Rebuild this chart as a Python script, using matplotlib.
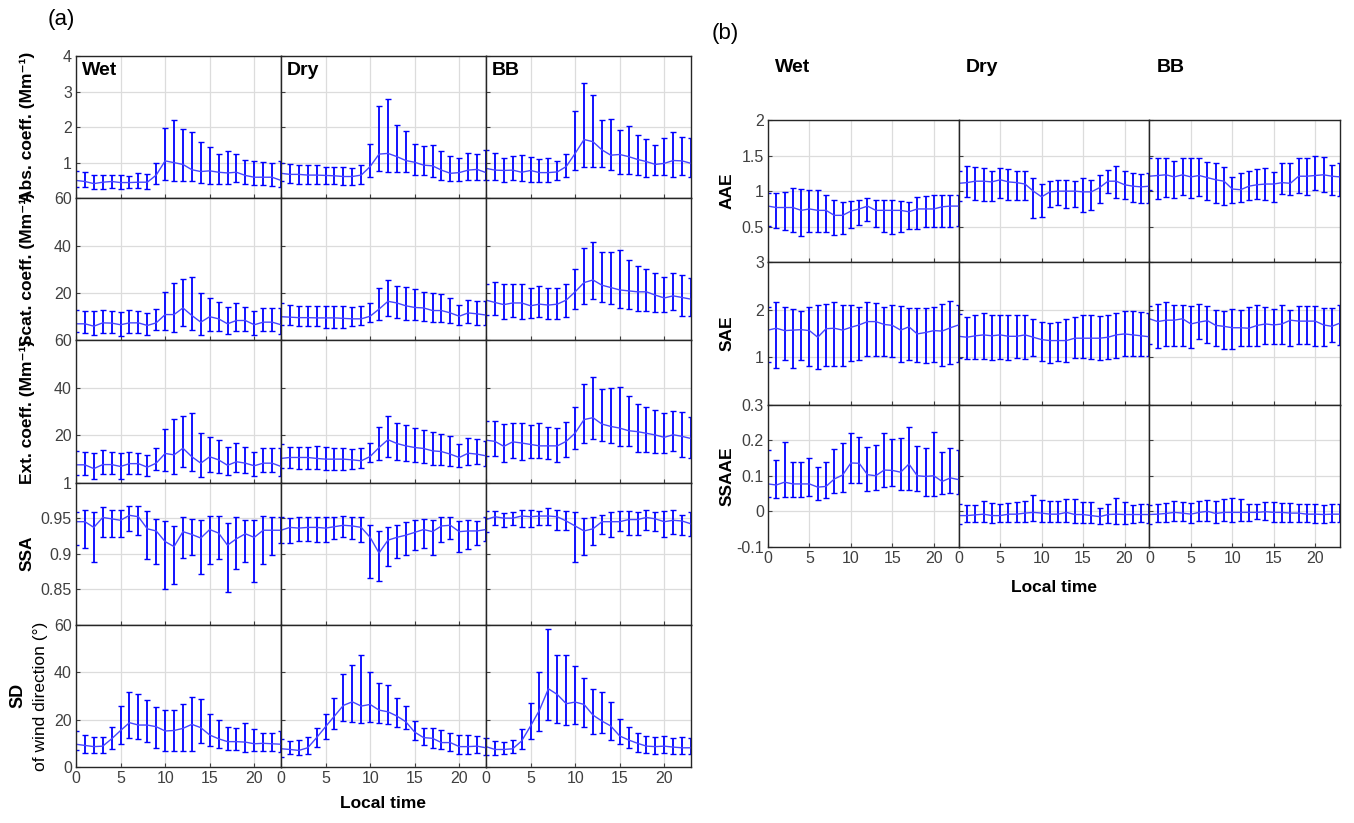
import numpy as np
import matplotlib
matplotlib.use("Agg")
import matplotlib.pyplot as plt

plt.rcParams["font.family"] = ["Liberation Sans", "DejaVu Sans"]

HOURS = list(range(24))
SEASONS = ["Wet", "Dry", "BB"]

# ---- panel (a) ----
abs_wet = [0.50, 0.47, 0.41, 0.45, 0.47, 0.44, 0.44, 0.45, 0.45, 0.65, 1.05, 1.00, 0.95, 0.80, 0.75, 0.77, 0.73, 0.71, 0.73, 0.64, 0.59, 0.59, 0.59, 0.50]
abs_wet_hi = [0.77, 0.73, 0.64, 0.64, 0.64, 0.64, 0.62, 0.71, 0.68, 0.98, 1.98, 2.21, 1.95, 1.85, 1.59, 1.45, 1.23, 1.32, 1.23, 1.07, 1.05, 1.02, 1.00, 1.05]
abs_wet_lo = [0.32, 0.32, 0.25, 0.27, 0.29, 0.25, 0.29, 0.29, 0.27, 0.41, 0.50, 0.47, 0.47, 0.47, 0.43, 0.41, 0.41, 0.41, 0.45, 0.41, 0.38, 0.36, 0.35, 0.32]
abs_dry = [0.70, 0.67, 0.67, 0.65, 0.65, 0.64, 0.63, 0.61, 0.61, 0.65, 0.89, 1.24, 1.26, 1.17, 1.06, 1.01, 0.93, 0.91, 0.79, 0.70, 0.72, 0.79, 0.81, 0.72]
abs_dry_hi = [0.98, 0.95, 0.93, 0.92, 0.92, 0.89, 0.88, 0.87, 0.86, 0.92, 1.52, 2.59, 2.78, 2.07, 1.90, 1.52, 1.47, 1.50, 1.33, 1.20, 1.12, 1.28, 1.24, 1.36]
abs_dry_lo = [0.47, 0.42, 0.40, 0.40, 0.40, 0.39, 0.39, 0.36, 0.37, 0.39, 0.59, 0.77, 0.73, 0.75, 0.73, 0.64, 0.64, 0.61, 0.50, 0.47, 0.47, 0.50, 0.50, 0.51]
abs_bb = [0.84, 0.79, 0.78, 0.79, 0.73, 0.78, 0.72, 0.72, 0.74, 0.89, 1.26, 1.65, 1.59, 1.36, 1.21, 1.23, 1.17, 1.09, 1.03, 0.95, 0.98, 1.06, 1.05, 0.98]
abs_bb_hi = [1.36, 1.28, 1.12, 1.19, 1.21, 1.15, 1.09, 1.12, 1.06, 1.24, 2.46, 3.25, 2.89, 2.19, 2.22, 1.92, 2.03, 1.79, 1.67, 1.51, 1.70, 1.86, 1.73, 1.70]
abs_bb_lo = [0.51, 0.51, 0.45, 0.51, 0.47, 0.45, 0.45, 0.45, 0.51, 0.61, 0.79, 0.89, 0.89, 0.89, 0.79, 0.67, 0.67, 0.65, 0.61, 0.64, 0.64, 0.61, 0.65, 0.61]

scat_wet = [7.0, 7.0, 6.0, 7.4, 7.3, 6.6, 7.4, 7.4, 6.3, 7.4, 10.9, 10.9, 13.7, 10.5, 7.7, 10.0, 9.1, 7.0, 8.4, 8.4, 6.6, 7.7, 7.7, 6.6]
scat_wet_hi = [13.0, 12.3, 12.3, 13.0, 12.3, 11.9, 12.8, 12.3, 11.6, 13.2, 20.6, 24.4, 26.1, 26.9, 19.9, 18.1, 16.0, 14.2, 15.6, 14.2, 12.3, 13.7, 13.7, 13.7]
scat_wet_lo = [3.5, 3.2, 2.1, 3.1, 3.2, 1.7, 3.2, 3.2, 2.1, 4.2, 4.5, 3.5, 6.0, 4.2, 2.4, 3.9, 3.9, 2.5, 3.9, 3.8, 2.4, 3.9, 3.9, 2.8]
scat_dry = [10.0, 9.8, 9.6, 9.6, 9.5, 9.5, 9.5, 9.3, 9.1, 9.1, 10.2, 13.2, 16.5, 15.8, 14.6, 13.9, 13.7, 12.6, 12.6, 11.6, 10.2, 11.6, 11.2, 10.7]
scat_dry_hi = [15.6, 14.9, 14.6, 14.4, 14.6, 14.6, 14.4, 14.4, 13.9, 14.4, 15.6, 22.2, 25.5, 23.0, 22.7, 21.6, 20.5, 19.9, 19.5, 17.9, 15.1, 17.2, 16.5, 16.5]
scat_dry_lo = [6.6, 6.6, 6.0, 6.0, 5.9, 5.3, 5.3, 5.3, 5.9, 6.3, 7.9, 8.6, 10.2, 9.5, 8.6, 8.6, 8.1, 7.9, 7.7, 7.3, 6.6, 7.3, 6.7, 6.3]
scat_bb = [17.0, 16.0, 15.1, 15.8, 15.8, 14.6, 15.3, 14.9, 15.3, 17.0, 20.5, 24.4, 25.5, 23.3, 22.3, 21.3, 20.9, 20.5, 20.5, 19.1, 17.9, 18.8, 18.1, 17.4]
scat_bb_hi = [24.0, 24.7, 23.7, 23.7, 24.0, 22.3, 23.0, 22.3, 21.9, 24.0, 30.0, 39.1, 41.4, 37.4, 37.4, 38.1, 33.9, 31.4, 30.0, 28.6, 26.9, 28.6, 27.5, 26.5]
scat_bb_lo = [10.9, 10.9, 9.1, 10.0, 9.1, 9.5, 10.0, 9.1, 9.1, 10.0, 13.2, 15.3, 17.4, 16.3, 15.3, 13.7, 13.2, 12.6, 12.6, 11.9, 11.9, 13.0, 10.5, 10.5]

ext_wet = [7.5, 7.5, 5.9, 7.6, 7.6, 6.8, 8.0, 8.0, 6.5, 8.2, 12.3, 11.7, 14.5, 10.9, 8.2, 10.9, 9.6, 7.3, 8.8, 8.2, 7.1, 8.2, 8.2, 6.8]
ext_wet_hi = [13.4, 13.1, 12.7, 13.7, 13.1, 12.3, 13.1, 12.7, 11.7, 14.5, 22.6, 26.8, 28.2, 29.4, 20.9, 19.1, 17.9, 15.1, 16.5, 15.1, 13.1, 14.5, 14.5, 14.8]
ext_wet_lo = [3.2, 3.1, 1.7, 3.5, 3.5, 1.7, 3.8, 3.8, 2.8, 5.2, 4.7, 3.8, 6.4, 4.7, 2.5, 4.5, 4.2, 3.2, 4.5, 4.2, 2.8, 4.5, 4.5, 2.8]
ext_dry = [10.2, 10.6, 10.6, 10.6, 10.2, 9.9, 9.9, 9.9, 9.6, 9.2, 11.0, 14.8, 18.1, 16.5, 15.5, 14.8, 14.4, 13.4, 13.1, 12.0, 10.6, 12.4, 12.0, 11.3]
ext_dry_hi = [16.2, 15.1, 15.1, 15.1, 15.3, 15.1, 14.8, 14.8, 14.1, 14.8, 16.9, 23.6, 28.2, 25.0, 24.3, 23.0, 22.2, 21.5, 20.5, 19.5, 16.4, 18.8, 18.6, 17.7]
ext_dry_lo = [6.1, 6.1, 5.9, 5.9, 5.6, 5.2, 5.2, 5.2, 5.6, 6.1, 8.5, 9.5, 10.9, 9.5, 9.2, 8.9, 8.1, 7.5, 7.5, 6.8, 6.4, 7.5, 7.8, 7.1]
ext_bb = [17.9, 17.4, 15.3, 17.2, 16.7, 16.1, 15.5, 15.5, 15.5, 17.4, 20.9, 26.6, 27.4, 24.7, 23.7, 23.0, 21.9, 21.5, 20.8, 20.1, 19.1, 20.2, 19.5, 18.6]
ext_bb_hi = [26.1, 26.1, 24.7, 25.0, 25.0, 24.3, 25.0, 23.3, 22.9, 25.7, 32.1, 41.7, 44.5, 39.3, 39.8, 40.3, 36.7, 33.2, 31.8, 30.6, 29.2, 30.4, 29.7, 27.8]
ext_bb_lo = [11.3, 11.3, 8.9, 10.2, 9.5, 10.3, 10.2, 9.9, 8.9, 10.6, 14.1, 16.9, 18.4, 17.4, 16.7, 15.5, 15.3, 13.1, 13.1, 12.7, 12.7, 13.4, 10.9, 10.2]

ssa_wet = [0.945, 0.945, 0.937, 0.951, 0.949, 0.947, 0.954, 0.952, 0.935, 0.932, 0.917, 0.910, 0.931, 0.927, 0.922, 0.934, 0.929, 0.912, 0.921, 0.928, 0.923, 0.933, 0.933, 0.933]
ssa_wet_hi = [0.958, 0.962, 0.959, 0.966, 0.962, 0.962, 0.967, 0.967, 0.960, 0.949, 0.946, 0.939, 0.952, 0.949, 0.947, 0.953, 0.953, 0.943, 0.952, 0.948, 0.947, 0.953, 0.952, 0.951]
ssa_wet_lo = [0.912, 0.908, 0.889, 0.924, 0.923, 0.923, 0.932, 0.926, 0.893, 0.886, 0.851, 0.857, 0.894, 0.898, 0.872, 0.886, 0.892, 0.846, 0.878, 0.889, 0.860, 0.886, 0.898, 0.915]
ssa_dry = [0.933, 0.937, 0.936, 0.937, 0.937, 0.936, 0.938, 0.940, 0.939, 0.937, 0.923, 0.901, 0.919, 0.923, 0.926, 0.930, 0.934, 0.931, 0.939, 0.940, 0.931, 0.932, 0.932, 0.934]
ssa_dry_hi = [0.952, 0.950, 0.951, 0.952, 0.952, 0.952, 0.952, 0.953, 0.952, 0.952, 0.941, 0.932, 0.938, 0.941, 0.944, 0.947, 0.949, 0.947, 0.952, 0.952, 0.946, 0.947, 0.946, 0.951]
ssa_dry_lo = [0.915, 0.915, 0.918, 0.918, 0.917, 0.917, 0.920, 0.923, 0.921, 0.917, 0.866, 0.862, 0.883, 0.894, 0.898, 0.905, 0.908, 0.898, 0.917, 0.921, 0.902, 0.907, 0.912, 0.918]
ssa_bb = [0.948, 0.952, 0.950, 0.950, 0.953, 0.952, 0.953, 0.953, 0.952, 0.946, 0.939, 0.932, 0.935, 0.945, 0.945, 0.945, 0.948, 0.948, 0.951, 0.949, 0.945, 0.947, 0.946, 0.942]
ssa_bb_hi = [0.960, 0.960, 0.957, 0.959, 0.962, 0.962, 0.960, 0.964, 0.961, 0.960, 0.958, 0.950, 0.952, 0.954, 0.958, 0.960, 0.960, 0.959, 0.962, 0.959, 0.960, 0.961, 0.955, 0.958]
ssa_bb_lo = [0.930, 0.941, 0.938, 0.940, 0.938, 0.937, 0.941, 0.941, 0.934, 0.934, 0.889, 0.898, 0.912, 0.928, 0.923, 0.932, 0.926, 0.926, 0.934, 0.932, 0.924, 0.928, 0.927, 0.925]

sd_wet = [9.6, 9.1, 8.6, 8.8, 11.9, 15.4, 18.7, 17.7, 17.7, 17.0, 15.2, 15.4, 16.3, 18.0, 16.6, 13.5, 11.9, 10.7, 10.7, 10.5, 9.8, 10.0, 9.8, 9.6]
sd_wet_hi = [15.4, 13.3, 12.6, 12.6, 17.0, 25.7, 31.7, 30.9, 28.1, 25.3, 24.0, 24.0, 26.7, 29.5, 28.5, 22.5, 19.8, 17.0, 16.6, 18.4, 16.2, 14.5, 14.5, 15.4]
sd_wet_lo = [7.0, 6.0, 6.0, 6.0, 7.4, 9.8, 12.1, 11.9, 10.7, 7.9, 6.7, 6.7, 6.7, 6.7, 10.0, 8.8, 7.9, 7.0, 7.0, 6.3, 6.7, 6.7, 6.7, 6.3]
sd_dry = [7.7, 7.4, 7.0, 8.1, 12.4, 17.0, 21.5, 26.0, 27.5, 25.7, 26.4, 24.0, 23.3, 21.5, 19.1, 14.7, 12.4, 12.1, 10.3, 10.3, 8.6, 8.6, 8.8, 8.1]
sd_dry_hi = [11.7, 11.0, 11.4, 12.6, 16.6, 22.5, 29.2, 39.3, 43.0, 47.2, 40.0, 35.3, 34.4, 29.2, 25.7, 19.4, 16.6, 16.6, 15.6, 14.2, 13.3, 13.3, 13.1, 12.4]
sd_dry_lo = [4.4, 5.3, 4.9, 5.6, 8.4, 11.9, 16.2, 19.4, 19.0, 18.7, 19.1, 18.4, 18.0, 17.0, 15.9, 11.2, 9.3, 8.1, 7.4, 6.7, 5.6, 5.6, 6.0, 4.9]
sd_bb = [8.6, 7.4, 7.4, 7.7, 11.0, 17.3, 24.0, 33.0, 30.6, 26.7, 27.4, 26.4, 21.9, 19.4, 17.3, 13.1, 11.4, 10.0, 8.8, 8.6, 8.8, 8.4, 8.1, 8.1]
sd_bb_hi = [12.4, 11.0, 10.5, 11.4, 16.2, 27.1, 40.0, 58.3, 47.1, 47.1, 42.8, 37.6, 33.1, 31.7, 27.5, 20.4, 17.0, 14.5, 13.1, 12.6, 13.1, 12.4, 12.6, 12.4]
sd_bb_lo = [4.9, 4.9, 5.3, 5.8, 7.7, 11.9, 15.2, 19.8, 18.4, 17.6, 18.0, 16.9, 13.8, 14.5, 11.4, 9.6, 7.9, 6.3, 6.0, 5.6, 6.0, 5.6, 5.3, 5.3]

# ---- panel (b) ----
aae_wet = [0.79, 0.77, 0.77, 0.77, 0.73, 0.75, 0.73, 0.73, 0.66, 0.66, 0.72, 0.75, 0.79, 0.73, 0.73, 0.73, 0.73, 0.71, 0.75, 0.75, 0.75, 0.78, 0.79, 0.79]
aae_wet_hi = [0.98, 0.98, 0.99, 1.04, 1.03, 1.02, 1.01, 0.95, 0.88, 0.85, 0.86, 0.87, 0.90, 0.87, 0.87, 0.87, 0.86, 0.85, 0.92, 0.93, 0.95, 0.94, 0.95, 0.95]
aae_wet_lo = [0.51, 0.48, 0.46, 0.43, 0.37, 0.43, 0.43, 0.42, 0.39, 0.40, 0.48, 0.53, 0.58, 0.50, 0.43, 0.40, 0.43, 0.47, 0.47, 0.49, 0.50, 0.50, 0.49, 0.51]
aae_dry = [1.11, 1.12, 1.14, 1.14, 1.13, 1.16, 1.13, 1.12, 1.10, 1.00, 0.92, 0.99, 1.00, 1.00, 1.00, 0.99, 0.99, 1.05, 1.14, 1.14, 1.09, 1.07, 1.06, 1.07]
aae_dry_hi = [1.29, 1.35, 1.34, 1.33, 1.29, 1.33, 1.31, 1.29, 1.29, 1.18, 1.10, 1.14, 1.15, 1.16, 1.14, 1.18, 1.16, 1.22, 1.30, 1.35, 1.28, 1.25, 1.24, 1.25]
aae_dry_lo = [0.86, 0.92, 0.87, 0.86, 0.86, 0.90, 0.88, 0.88, 0.87, 0.62, 0.64, 0.78, 0.81, 0.77, 0.78, 0.70, 0.73, 0.84, 0.97, 0.90, 0.89, 0.85, 0.83, 0.84]
aae_bb = [1.21, 1.22, 1.23, 1.20, 1.23, 1.20, 1.22, 1.19, 1.16, 1.14, 1.03, 1.02, 1.07, 1.09, 1.10, 1.10, 1.12, 1.11, 1.21, 1.21, 1.22, 1.23, 1.21, 1.20]
aae_bb_hi = [1.47, 1.47, 1.46, 1.43, 1.47, 1.46, 1.47, 1.41, 1.39, 1.34, 1.20, 1.25, 1.28, 1.31, 1.33, 1.27, 1.40, 1.40, 1.47, 1.47, 1.49, 1.48, 1.37, 1.40]
aae_bb_lo = [1.01, 0.89, 0.92, 0.90, 0.94, 0.91, 0.93, 0.88, 0.84, 0.81, 0.83, 0.85, 0.88, 0.89, 0.87, 0.85, 0.96, 0.95, 0.98, 0.95, 1.02, 0.99, 0.95, 0.93]

sae_wet = [1.57, 1.61, 1.56, 1.57, 1.58, 1.56, 1.42, 1.60, 1.61, 1.57, 1.63, 1.68, 1.75, 1.75, 1.69, 1.67, 1.57, 1.64, 1.49, 1.52, 1.56, 1.55, 1.62, 1.68]
sae_wet_hi = [2.05, 2.17, 2.05, 2.02, 1.98, 2.05, 2.10, 2.12, 2.16, 2.10, 2.10, 2.05, 2.16, 2.14, 2.05, 2.10, 2.07, 2.03, 2.03, 2.03, 2.05, 2.12, 2.19, 2.10]
sae_wet_lo = [0.89, 0.77, 0.94, 0.77, 0.94, 0.81, 0.75, 0.82, 0.82, 0.82, 0.91, 0.94, 1.03, 1.02, 1.02, 1.01, 0.89, 0.94, 0.89, 0.87, 0.89, 0.82, 0.86, 0.90]
sae_dry = [1.44, 1.42, 1.45, 1.47, 1.45, 1.47, 1.44, 1.44, 1.47, 1.42, 1.37, 1.35, 1.35, 1.35, 1.40, 1.40, 1.40, 1.40, 1.42, 1.47, 1.49, 1.47, 1.45, 1.43]
sae_dry_hi = [1.91, 1.84, 1.88, 1.93, 1.89, 1.89, 1.89, 1.89, 1.88, 1.81, 1.75, 1.72, 1.74, 1.81, 1.84, 1.88, 1.89, 1.86, 1.89, 1.93, 1.98, 1.98, 1.95, 1.93]
sae_dry_lo = [0.98, 0.96, 0.96, 0.96, 0.95, 0.96, 0.94, 0.98, 0.96, 1.02, 0.91, 0.87, 0.91, 0.89, 0.98, 0.98, 0.96, 0.95, 0.96, 0.98, 1.02, 1.02, 1.02, 1.03]
sae_bb = [1.81, 1.75, 1.78, 1.78, 1.81, 1.70, 1.74, 1.77, 1.67, 1.65, 1.62, 1.62, 1.61, 1.67, 1.70, 1.68, 1.70, 1.78, 1.76, 1.76, 1.76, 1.68, 1.65, 1.72]
sae_bb_hi = [2.07, 2.12, 2.16, 2.09, 2.10, 2.07, 2.12, 2.07, 2.00, 1.97, 2.02, 2.00, 2.05, 2.09, 2.05, 2.02, 2.09, 2.00, 2.07, 2.07, 2.07, 2.03, 2.03, 2.10]
sae_bb_lo = [1.28, 1.19, 1.24, 1.24, 1.24, 1.19, 1.38, 1.30, 1.23, 1.17, 1.17, 1.24, 1.23, 1.24, 1.28, 1.28, 1.28, 1.24, 1.28, 1.28, 1.24, 1.23, 1.31, 1.26]

ssaae_wet = [0.077, 0.074, 0.082, 0.077, 0.077, 0.077, 0.068, 0.070, 0.091, 0.102, 0.136, 0.135, 0.103, 0.100, 0.116, 0.115, 0.110, 0.133, 0.100, 0.098, 0.100, 0.084, 0.094, 0.089]
ssaae_wet_hi = [0.171, 0.143, 0.196, 0.140, 0.140, 0.149, 0.124, 0.140, 0.174, 0.192, 0.220, 0.208, 0.180, 0.187, 0.220, 0.202, 0.207, 0.238, 0.185, 0.177, 0.223, 0.168, 0.177, 0.173]
ssaae_wet_lo = [0.039, 0.037, 0.039, 0.039, 0.039, 0.042, 0.032, 0.037, 0.052, 0.055, 0.080, 0.080, 0.058, 0.061, 0.068, 0.070, 0.061, 0.060, 0.056, 0.044, 0.042, 0.049, 0.051, 0.049]
ssaae_dry = [-0.012, -0.012, -0.010, -0.008, -0.012, -0.012, -0.008, -0.008, -0.005, -0.003, -0.005, -0.008, -0.008, -0.003, -0.009, -0.009, -0.012, -0.015, -0.009, -0.008, -0.009, -0.009, -0.009, -0.009]
ssaae_dry_hi = [0.021, 0.018, 0.018, 0.030, 0.023, 0.021, 0.023, 0.025, 0.030, 0.046, 0.033, 0.030, 0.030, 0.035, 0.035, 0.025, 0.025, 0.008, 0.021, 0.037, 0.025, 0.018, 0.021, 0.021]
ssaae_dry_lo = [-0.036, -0.031, -0.031, -0.031, -0.033, -0.031, -0.029, -0.029, -0.031, -0.026, -0.029, -0.029, -0.031, -0.029, -0.033, -0.034, -0.033, -0.036, -0.033, -0.036, -0.036, -0.033, -0.031, -0.033]
ssaae_bb = [-0.009, -0.008, -0.006, -0.003, -0.005, -0.008, -0.003, 0.000, -0.006, -0.003, -0.003, -0.003, -0.003, -0.003, -0.001, -0.003, -0.003, -0.005, -0.005, -0.008, -0.008, -0.009, -0.008, -0.008]
ssaae_bb_hi = [0.018, 0.021, 0.023, 0.030, 0.025, 0.023, 0.030, 0.033, 0.030, 0.035, 0.037, 0.035, 0.021, 0.021, 0.025, 0.025, 0.023, 0.023, 0.021, 0.021, 0.021, 0.018, 0.021, 0.021]
ssaae_bb_lo = [-0.036, -0.031, -0.029, -0.026, -0.026, -0.033, -0.026, -0.026, -0.033, -0.026, -0.029, -0.026, -0.026, -0.022, -0.024, -0.029, -0.029, -0.029, -0.031, -0.031, -0.033, -0.033, -0.031, -0.031]

# rows: (series per season, y limits, y ticks)
ROWS_A = [
    ([(abs_wet, abs_wet_lo, abs_wet_hi), (abs_dry, abs_dry_lo, abs_dry_hi), (abs_bb, abs_bb_lo, abs_bb_hi)], (0, 4), [1, 2, 3, 4]),
    ([(scat_wet, scat_wet_lo, scat_wet_hi), (scat_dry, scat_dry_lo, scat_dry_hi), (scat_bb, scat_bb_lo, scat_bb_hi)], (0, 60), [20, 40, 60]),
    ([(ext_wet, ext_wet_lo, ext_wet_hi), (ext_dry, ext_dry_lo, ext_dry_hi), (ext_bb, ext_bb_lo, ext_bb_hi)], (0, 60), [20, 40, 60]),
    ([(ssa_wet, ssa_wet_lo, ssa_wet_hi), (ssa_dry, ssa_dry_lo, ssa_dry_hi), (ssa_bb, ssa_bb_lo, ssa_bb_hi)], (0.8, 1), [0.85, 0.9, 0.95, 1]),
    ([(sd_wet, sd_wet_lo, sd_wet_hi), (sd_dry, sd_dry_lo, sd_dry_hi), (sd_bb, sd_bb_lo, sd_bb_hi)], (0, 60), [0, 20, 40, 60]),
]
LABELS_A = ["Abs. coeff. (Mm⁻¹)", "Scat. coeff. (Mm⁻¹)", "Ext. coeff. (Mm⁻¹)", "SSA", None]
ROWS_B = [
    ([(aae_wet, aae_wet_lo, aae_wet_hi), (aae_dry, aae_dry_lo, aae_dry_hi), (aae_bb, aae_bb_lo, aae_bb_hi)], (0, 2), [0.5, 1, 1.5, 2]),
    ([(sae_wet, sae_wet_lo, sae_wet_hi), (sae_dry, sae_dry_lo, sae_dry_hi), (sae_bb, sae_bb_lo, sae_bb_hi)], (0, 3), [1, 2, 3]),
    ([(ssaae_wet, ssaae_wet_lo, ssaae_wet_hi), (ssaae_dry, ssaae_dry_lo, ssaae_dry_hi), (ssaae_bb, ssaae_bb_lo, ssaae_bb_hi)], (-0.1, 0.3), [-0.1, 0, 0.1, 0.2, 0.3]),
]
LABELS_B = ["AAE", "SAE", "SSAAE"]

W, H = 1354, 823
TICK_COLOR = "#404040"


def panel(ax, series, ylim, yticks, first_col, last_row):
    mean, lo, hi = (np.array(s) for s in series)
    ax.errorbar(HOURS, mean, yerr=[mean - lo, hi - mean], color="#4646ff", lw=1.0,
                ecolor="#0000ff", elinewidth=1.3, capsize=2, capthick=1)
    ax.set_xlim(0, 23)
    ax.set_ylim(*ylim)
    ax.set_xticks([0, 5, 10, 15, 20])
    ax.set_yticks(yticks)
    ax.set_yticklabels(["%g" % t for t in yticks])
    ax.grid(True, color="#dcdcdc", lw=0.9)
    ax.set_axisbelow(True)
    ax.tick_params(direction="in", length=3, labelsize=11.5, colors=TICK_COLOR,
                   labelleft=first_col, labelbottom=last_row, pad=3)
    for sp in ax.spines.values():
        sp.set_color("#262626")
        sp.set_linewidth(1.0)


def grid_axes(fig, rows, left, top, cw, rh, labels, label_x):
    axes = []
    for r, (series, ylim, yticks) in enumerate(rows):
        row_axes = []
        for c in range(3):
            x0 = left + c * cw
            y1 = top + (r + 1) * rh
            ax = fig.add_axes([x0 / W, 1 - y1 / H, cw / W, rh / H])
            panel(ax, series[c], ylim, yticks, c == 0, r == len(rows) - 1)
            row_axes.append(ax)
        if labels[r] is not None:
            fig.text(label_x / W, 1 - (top + (r + 0.5) * rh) / H, labels[r], rotation=90,
                     ha="center", va="center", fontsize=12.5, fontweight="bold")
        axes.append(row_axes)
    return axes


fig = plt.figure(figsize=(W / 100, H / 100), dpi=100)

# panel (a)
A_LEFT, A_TOP, A_CW, A_RH = 76, 56, 205, 142.2
axes_a = grid_axes(fig, ROWS_A, A_LEFT, A_TOP, A_CW, A_RH, LABELS_A, 27)
sd_mid = 1 - (A_TOP + 4.5 * A_RH) / H
fig.text(18 / W, sd_mid, "SD", rotation=90, ha="center", va="center", fontsize=13, fontweight="bold")
fig.text(41 / W, sd_mid, "of wind direction (°)", rotation=90, ha="center", va="center", fontsize=12.5)
for c, name in enumerate(SEASONS):
    axes_a[0][c].text(0.03, 0.96, name, transform=axes_a[0][c].transAxes, ha="left", va="top",
                      fontsize=14, fontweight="bold")
fig.text((A_LEFT + 1.5 * A_CW) / W, 1 - 803 / H, "Local time", ha="center", va="center",
         fontsize=12.5, fontweight="bold")
fig.text(48 / W, 1 - 20 / H, "(a)", ha="left", va="center", fontsize=16)

# panel (b)
B_LEFT, B_TOP, B_CW, B_RH = 768, 120, 190.7, 142.3
axes_b = grid_axes(fig, ROWS_B, B_LEFT, B_TOP, B_CW, B_RH, LABELS_B, 727)
for c, name in enumerate(SEASONS):
    fig.text((B_LEFT + 7 + c * B_CW) / W, 1 - 68 / H, name, ha="left", va="center",
             fontsize=14, fontweight="bold")
fig.text((B_LEFT + 1.5 * B_CW) / W, 1 - 588 / H, "Local time", ha="center", va="center",
         fontsize=12.5, fontweight="bold")
fig.text(712 / W, 1 - 33 / H, "(b)", ha="left", va="center", fontsize=16)

fig.savefig("out.png", dpi=100)
